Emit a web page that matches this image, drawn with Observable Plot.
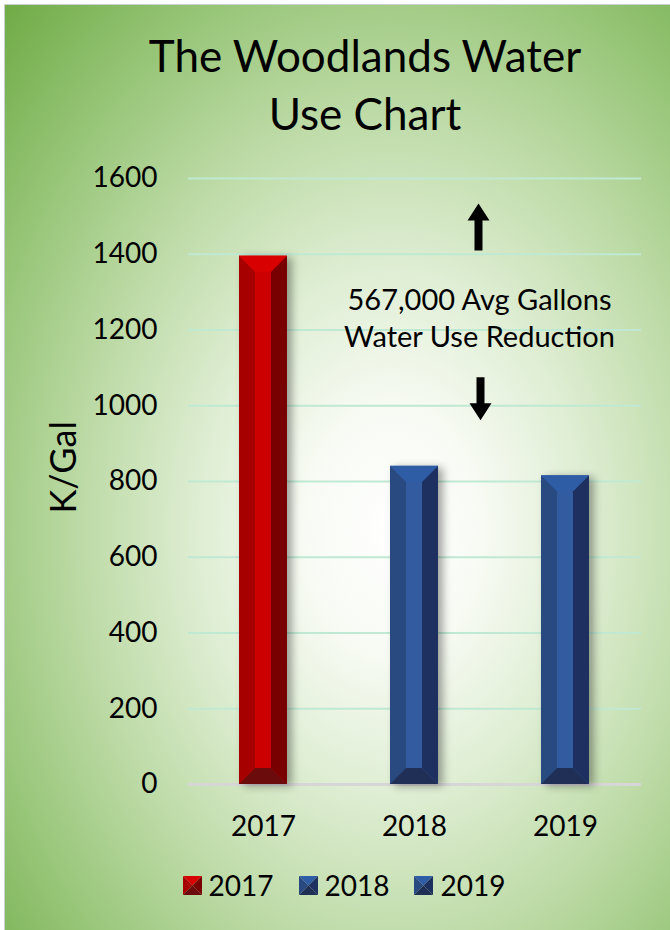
<!DOCTYPE html>
<html>
<head>
<meta charset="utf-8">
<script src="https://cdn.jsdelivr.net/npm/d3@7"></script>
<script src="https://cdn.jsdelivr.net/npm/@observablehq/plot@0.6"></script>
<style>
  html, body { margin: 0; padding: 0; background: #ffffff; }
  #chart {
    position: relative; width: 670px; height: 930px; overflow: hidden;
    font-family: Lato, "Open Sans", sans-serif; color: #000;
  }
  #panel {
    position: absolute; left: 4px; top: 4px; width: 680px; height: 940px;
    border-left: 1.5px solid #cfcfcf; border-top: 1.5px solid #cfcfcf;
    background: radial-gradient(farthest-corner at 57% 56%, #ffffff 0%, #f8fbf4 16%, #dfeed4 35%, #c0dcaa 55%, #98c679 77%, #70ab46 100%);
  }
  #title {
    position: absolute; left: 0; top: 26px; width: 730px; text-align: center;
    font-size: 44px; line-height: 58px;
  }
  #plot { position: absolute; left: 0; top: 150px; }
  #legend {
    position: absolute; left: 0; top: 868px; width: 688px;
    display: flex; justify-content: center; align-items: center; gap: 25px;
    font-size: 28px;
  }
  .item { display: flex; align-items: center; gap: 7px; }
</style>
</head>
<body>
<div id="chart">
  <div id="panel"></div>
  <div id="title">The Woodlands Water<br>Use Chart</div>
  <div id="plot"></div>
  <div id="legend"></div>
</div>
<script>
// ---- data ----
const years = ["2017", "2018", "2019"];
const usage = [1395, 840, 815];           // K/Gal
const yTicks = [0, 200, 400, 600, 800, 1000, 1200, 1400, 1600];
const yLabel = "K/Gal";
const annotationLines = ["567,000 Avg Gallons", "Water Use Reduction"];
const annotationY = [1235];               // text centre, K/Gal
const upArrowBase = [1410];               // K/Gal
const downArrowBase = [1075];             // K/Gal

// ---- styles ----
const palette = {
  "2017": {top: "#d80000", left: "#a60000", mid: "#cc0000", right: "#780000", bottom: "#6c0b0b"},
  "2018": {top: "#2f5da5", left: "#284a80", mid: "#335ca0", right: "#1e3060", bottom: "#1f2f55"},
  "2019": {top: "#2f5da5", left: "#284a80", mid: "#335ca0", right: "#1e3060", bottom: "#1f2f55"}
};

const data = years.map((year, i) => ({year, value: usage[i]}));

function bevelRender(index, scales, values, dimensions, context, next) {
  const g = next(index, scales, values, dimensions, context);
  const ns = "http://www.w3.org/2000/svg";
  const rects = Array.from(g.querySelectorAll("rect"));
  rects.forEach((r, k) => {
    const d = data[index[k]];
    const p = palette[d.year];
    const x = +r.getAttribute("x"), y = +r.getAttribute("y");
    const w = +r.getAttribute("width"), h = +r.getAttribute("height");
    const b = w / 3;
    r.setAttribute("fill", p.mid);
    const polys = [
      [[x, y], [x + b, y + b], [x + b, y + h - b], [x, y + h], p.left],
      [[x + w, y], [x + w - b, y + b], [x + w - b, y + h - b], [x + w, y + h], p.right],
      [[x, y], [x + w, y], [x + w - b, y + b], [x + b, y + b], p.top],
      [[x, y + h], [x + w, y + h], [x + w - b, y + h - b], [x + b, y + h - b], p.bottom]
    ];
    polys.forEach(pp => {
      const el = document.createElementNS(ns, "polygon");
      el.setAttribute("points", pp.slice(0, 4).map(q => q.join(",")).join(" "));
      el.setAttribute("fill", pp[4]);
      r.parentNode.appendChild(el);
    });
  });
  g.setAttribute("style", "filter: drop-shadow(5px 2px 4px rgba(0,0,0,0.35))");
  return g;
}

const arrowShape = {
  draw(context, l) {
    const sw = 4, hw = 11, hh = 17;
    context.moveTo(-sw, 0);
    context.lineTo(-sw, -(l - hh));
    context.lineTo(-hw, -(l - hh));
    context.lineTo(0, -l);
    context.lineTo(hw, -(l - hh));
    context.lineTo(sw, -(l - hh));
    context.lineTo(sw, 0);
    context.closePath();
  }
};

const plot = Plot.plot({
  width: 670,
  height: 704,
  marginLeft: 188,
  marginRight: 29,
  marginTop: 28,
  marginBottom: 70,
  style: {fontFamily: "Lato, 'Open Sans', sans-serif", background: "transparent", color: "#000", overflow: "visible"},
  x: {domain: years, paddingInner: 0.68, paddingOuter: 0.34},
  y: {domain: [0, 1600]},
  marks: [
    Plot.ruleY(yTicks.filter(d => d > 0), {stroke: "#bfe9d3", strokeWidth: 2}),
    Plot.ruleY([0], {stroke: "#d6d6d6", strokeWidth: 3}),
    Plot.barY(data, {x: "year", y: "value", fill: "#888", render: bevelRender}),
    Plot.axisY({ticks: yTicks, tickSize: 0, tickPadding: 31, fontSize: 28, tickFormat: d => String(d), label: null}),
    Plot.text([yLabel], {frameAnchor: "left", dx: -124, dy: 32, rotate: -90, fontSize: 36, fill: "#000"}),
    Plot.axisX({tickSize: 0, tickPadding: 32, fontSize: 28, label: null}),
    Plot.text([annotationLines.join("\n")], {x: () => "2018", y: annotationY, dx: 65, fontSize: 29, lineHeight: 1.28, fill: "#000"}),
    Plot.vector(upArrowBase, {x: () => "2018", y: d => d, dx: 64, length: 47, rotate: 0, anchor: "start", shape: arrowShape, fill: "#000", stroke: "none"}),
    Plot.vector(downArrowBase, {x: () => "2018", y: d => d, dx: 66, length: 43, rotate: 180, anchor: "start", shape: arrowShape, fill: "#000", stroke: "none"})
  ]
});
document.getElementById("plot").appendChild(plot);

// legend
const legend = document.getElementById("legend");
years.forEach(year => {
  const p = palette[year];
  const item = document.createElement("div");
  item.className = "item";
  item.innerHTML = `<svg width="19" height="19" viewBox="0 0 19 19">
    <polygon points="0,0 19,0 9.5,9.5" fill="${p.top}"/>
    <polygon points="0,0 9.5,9.5 0,19" fill="${p.left}"/>
    <polygon points="19,0 9.5,9.5 19,19" fill="${p.right}"/>
    <polygon points="0,19 9.5,9.5 19,19" fill="${p.bottom}"/>
  </svg><span>${year}</span>`;
  legend.appendChild(item);
});
</script>
</body>
</html>
